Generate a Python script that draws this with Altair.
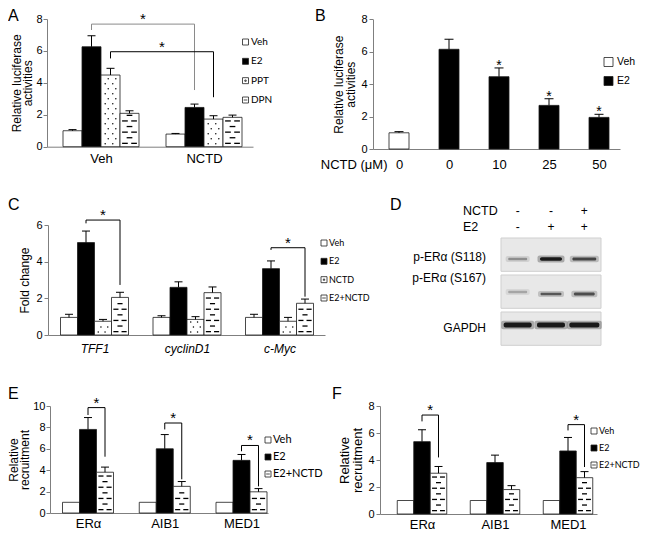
import json
import altair as alt
import pandas as pd

W, H = 632, 527
M = 8          # page margin of the html body
SHT = 10       # bottom row: upper parts raised a little
SHB = 14       # bottom row: baseline raised so that the labels fit

FONT = "Liberation Sans"
LFONT = "Lato"
GRAY = "#7f7f7f"


def cx(p):
    return p - M


def cy(p):
    return p - M


# ----------------------------- data -----------------------------
# A: luciferase reporter
A_groups = ["Veh", "NCTD"]
A_series = ["Veh", "E2", "PPT", "DPN"]
A_veh = [1.00, 0.79]
A_veh_err = [0.07, 0.04]
A_e2 = [6.26, 2.46]
A_e2_err = [0.69, 0.21]
A_ppt = [4.49, 1.73]
A_ppt_err = [0.42, 0.21]
A_dpn = [2.09, 1.84]
A_dpn_err = [0.16, 0.14]
# significance brackets: (group, series) -> (group, series), top, left end, right end
A_brackets = [((0, 1), (1, 1), 7.68, 7.31, 3.55), ((0, 2), (1, 2), 5.95, 5.53, 3.10)]

# B: NCTD dose response
B_doses = ["0", "0", "10", "25", "50"]
B_treat = ["Veh", "E2", "E2", "E2", "E2"]
B_values = [1.00, 6.15, 4.46, 2.69, 1.95]
B_errors = [0.07, 0.62, 0.54, 0.41, 0.19]
B_signif = [False, False, True, True, True]

# C: target genes
C_groups = ["TFF1", "cyclinD1", "c-Myc"]
C_series = ["Veh", "E2", "NCTD", "E2+NCTD"]
C_veh = [0.96, 0.96, 0.96]
C_veh_err = [0.17, 0.09, 0.17]
C_e2 = [5.04, 2.60, 3.62]
C_e2_err = [0.63, 0.30, 0.42]
C_nctd = [0.75, 0.85, 0.75]
C_nctd_err = [0.10, 0.15, 0.21]
C_combo = [2.05, 2.31, 1.73]
C_combo_err = [0.28, 0.31, 0.23]
C_brackets = [((0, 1), (0, 3), 6.27, 6.09, 2.73), ((2, 1), (2, 3), 4.76, 4.64, 2.09)]

# D: western blot
D_treatments = ["NCTD", "E2"]
D_nctd = ["-", "-", "+"]
D_e2 = ["-", "+", "+"]
D_blots = ["p-ERα (S118)", "p-ERα (S167)", "GAPDH"]
D_s118 = [0.35, 0.95, 0.70]
D_s167 = [0.25, 0.60, 0.65]
D_gapdh = [0.95, 0.95, 0.95]

# E, F: ChIP
EF_groups = ["ERα", "AIB1", "MED1"]
EF_series = ["Veh", "E2", "E2+NCTD"]
E_veh = [1.0, 1.0, 1.0]
E_veh_err = [0.0, 0.0, 0.0]
E_e2 = [7.81, 6.00, 4.92]
E_e2_err = [1.11, 1.33, 0.55]
E_combo = [3.81, 2.49, 1.98]
E_combo_err = [0.48, 0.45, 0.30]
E_brackets = [((0, 1), (0, 2), 9.85, 9.16, 5.26), ((1, 1), (1, 2), 8.41, 7.81, 3.15),
              ((2, 1), (2, 2), 6.31, 5.77, 2.49)]
F_veh = [1.0, 1.0, 1.0]
F_veh_err = [0.0, 0.0, 0.0]
F_e2 = [5.36, 3.81, 4.67]
F_e2_err = [0.88, 0.55, 1.00]
F_combo = [3.02, 1.81, 2.69]
F_combo_err = [0.50, 0.29, 0.45]
F_brackets = [((0, 1), (0, 2), 7.33, 6.86, 4.19), ((2, 1), (2, 2), 6.62, 6.19, 3.48)]

# ----------------------------- styles -----------------------------
SQ = "M-1,-1H1V1H-1Z"
SQ_DOT = SQ + "M-0.22,-0.22H0.22V0.22H-0.22Z"
SQ_DASH = SQ + "M-0.6,0H0.6"


def grouped(series, vals, errs):
    out = []
    for k, (s, vs, es) in enumerate(zip(series, vals, errs)):
        for g, (v, e) in enumerate(zip(vs, es)):
            out.append((g, k, s, v, e))
    return out


def pattern_points(xc, bw, v, kind, ppu):
    pts = []
    row_px = 5.6 if kind == "dash" else 5.0
    step = row_px / ppu
    y = step * 0.6
    r = 0
    while y < v - step * 0.35:
        if kind == "dash":
            offs = [-0.24, 0.24] if r % 2 == 0 else [0.0]
        else:
            offs = [-0.28, 0.12] if r % 2 == 0 else [-0.12, 0.28]
        for o in offs:
            pts.append({"px": xc + o * bw, "py": y})
        y += step
        r += 1
    return pts


def bar_panel(groups, series, bars, fills, pats, lay, brackets=(), bracket_cols=(), star_bars=()):
    step, c0 = lay["step"], lay["c0"]

    def u(px):
        return (px - c0) / step

    bw = lay["bar_px"] / step
    cap = lay["cap_px"] / step
    ppu = (lay["y0"] - lay["y1"]) / lay["ymax"]
    n = lay["per_group"]
    xs = alt.Scale(domain=[u(lay["ax0"]), u(lay["ax1"])], range=[cx(lay["ax0"]), cx(lay["ax1"])],
                   nice=False, zero=False)
    ys = alt.Scale(domain=[0, lay["ymax"]], range=[cy(lay["y0"]), cy(lay["y1"])], nice=False, zero=False)
    xa_kw = dict(orient="bottom", offset=cy(lay["y0"]) - H, values=list(range(len(groups))),
                 labelExpr=json.dumps(groups, ensure_ascii=False) + "[datum.value]",
                 ticks=False, labelFontSize=lay["xlsize"], labelFontStyle=lay.get("xlstyle", "normal"),
                 labelPadding=lay["xlpad"], labelFlush=False, labelOverlap=False, title=None)
    xa_kw.update(lay.get("xtitle", {}))
    xa = alt.Axis(**xa_kw)
    ya = alt.Axis(orient="left", offset=-cx(lay["ax0"]), values=lay["yticks"], format="d", tickSize=4,
                  title=lay["ytitle"], titleFontSize=lay["ytsize"], titlePadding=lay["ytpad"],
                  titleLineHeight=lay["ytlh"], labelFontSize=11, labelPadding=lay.get("ylpad", 2),
                  labelFlush=False, labelOverlap=False)

    def X(f):
        return alt.X(f, type="quantitative", scale=xs, axis=xa)

    def Y(f):
        return alt.Y(f, type="quantitative", scale=ys, axis=ya)

    def center(g, k):
        return g + (k - (n - 1) / 2) * bw

    rec, dots, dashes = [], [], []
    for g, k, s, v, e in bars:
        xc = center(g, k)
        rec.append(dict(s=s, v=v, e=e, top=v + e, xc=xc, x0=xc - bw / 2, x1=xc + bw / 2,
                        c0=xc - cap / 2, c1=xc + cap / 2, zero=0.0))
        kind = pats.get(s)
        if kind == "dots":
            dots += pattern_points(xc, bw, v, kind, ppu)
        elif kind == "dash":
            dashes += pattern_points(xc, bw, v, kind, ppu)
    df = pd.DataFrame(rec)

    layers = [
        alt.Chart(df).mark_rect(stroke="#1a1a1a", strokeWidth=0.8).encode(
            x=X("x0"), x2="x1", y=Y("v"), y2="zero",
            fill=alt.Fill("s:N", scale=alt.Scale(domain=series, range=fills), legend=None))
    ]
    if dots:
        layers.append(alt.Chart(pd.DataFrame(dots)).mark_point(
            shape="circle", filled=True, size=2.2, color="black", opacity=1).encode(x=X("px"), y=Y("py")))
    if dashes:
        layers.append(alt.Chart(pd.DataFrame(dashes)).mark_point(
            shape="M-1,0H1", filled=False, size=(0.3 * lay["bar_px"]) ** 2, stroke="black",
            strokeWidth=1.3, opacity=1).encode(x=X("px"), y=Y("py")))
    edf = df[df.e > 0]
    layers.append(alt.Chart(edf).mark_rule(color="black", strokeWidth=1).encode(x=X("xc"), y=Y("v"), y2="top"))
    layers.append(alt.Chart(edf).mark_rule(color="black", strokeWidth=1).encode(x=X("c0"), x2="c1", y=Y("top")))

    br, st = [], []
    for i, ((g1, k1), (g2, k2), top, lb, rb) in enumerate(brackets):
        xl, xr = center(g1, k1), center(g2, k2)
        col = bracket_cols[i] if bracket_cols else "black"
        for j, (bx, by) in enumerate([(xl, lb), (xl, top), (xr, top), (xr, rb)]):
            br.append(dict(id=i, seq=j, bx=bx, by=by, col=col))
        st.append(dict(sx=(xl + xr) / 2, sy=top))
    for i in star_bars:
        st.append(dict(sx=rec[i]["xc"], sy=rec[i]["top"]))
    if br:
        layers.append(alt.Chart(pd.DataFrame(br)).mark_line(strokeWidth=1).encode(
            x=X("bx"), y=Y("by"), detail="id:N", order="seq:Q", color=alt.Color("col:N", scale=None)))
    if st:
        layers.append(alt.Chart(pd.DataFrame(st)).mark_text(
            text="*", font=FONT, fontSize=lay["star_size"], baseline="alphabetic", align="center",
            dy=lay.get("star_dy", 0), color="black").encode(x=X("sx"), y=Y("sy")))
    return alt.layer(*layers)


def legend(series, fills, shapes, sq_x, y_first, y_last, text_x, size, font, fsize):
    df = pd.DataFrame({"s": series})
    y = alt.Y("s:N", scale=alt.Scale(type="point", domain=series, range=[cy(y_first), cy(y_last)],
                                      padding=0), axis=None)
    pts = alt.Chart(df).mark_point(filled=True, size=size, stroke="#222", strokeWidth=0.8, opacity=1).encode(
        x=alt.value(cx(sq_x)), y=y,
        fill=alt.Fill("s:N", scale=alt.Scale(domain=series, range=fills), legend=None),
        shape=alt.Shape("s:N", scale=alt.Scale(domain=series, range=shapes), legend=None))
    txt = alt.Chart(df).mark_text(align="left", baseline="middle", font=font, fontSize=fsize,
                                  color="black").encode(x=alt.value(cx(text_x)), y=y, text="s:N")
    return alt.layer(pts, txt)


def blot_panel():
    x0p, x1p, top, pitch = 501, 601, 238, 37
    lane_px = (x1p - x0p) / 3
    xs = alt.Scale(domain=[0, 3], range=[cx(x0p), cx(x1p)], nice=False, zero=False)
    ys = alt.Scale(domain=[0, 3], range=[cy(top), cy(top + 3 * pitch)], nice=False, zero=False)

    def ux(px):
        return (px - x0p) / lane_px

    def uy(py):
        return (py - top) / pitch

    def X(f):
        return alt.X(f, type="quantitative", scale=xs, axis=None)

    def Y(f):
        return alt.Y(f, type="quantitative", scale=ys, axis=None)

    boxes = pd.DataFrame({"b": D_blots, "x0": 0.0, "x1": 3.0,
                          "y0": [0.0, 1.0, 2.0], "y1": [0.9, 1.9, 2.9]})
    band_w = [[19, 22, 24], [19, 21, 21], [28, 28, 30]]
    band_h = [[2.5, 3.5, 3.0], [2.5, 2.5, 3.0], [5.0, 5.0, 5.0]]
    band_y = [[259, 259, 259], [292, 294, 294], [325, 325, 325]]
    bands = []
    for r, inten in enumerate([D_s118, D_s167, D_gapdh]):
        for lane, it in enumerate(inten):
            c = lane + 0.5
            yc = uy(band_y[r][lane])
            for grow_w, grow_h, fac in [(5, 3.5, 0.3), (0, 0, 1.0)]:
                hw = (band_w[r][lane] + grow_w) / 2 / lane_px
                hh = (band_h[r][lane] + grow_h) / 2 / pitch
                bands.append(dict(x0=c - hw, x1=c + hw, y0=yc - hh, y1=yc + hh, i=it * fac))
    bands = pd.DataFrame(bands)

    signs = []
    for row, (lab, vals) in enumerate(zip(D_treatments, [D_nctd, D_e2])):
        for lane, sgn in enumerate(vals):
            signs.append(dict(x=lane + 0.5, y=uy([211, 227][row]), t=sgn))
    signs = pd.DataFrame(signs)
    heads = pd.DataFrame({"t": D_treatments, "x": ux(463), "y": [uy(211), uy(227)]})
    rows = pd.DataFrame({"t": D_blots, "x": ux(486), "y": [uy(257), uy(278), uy(328)]})

    return alt.layer(
        alt.Chart(boxes).mark_rect(fill="#e8e8e8", stroke="#cfcfcf", strokeWidth=1).encode(
            x=X("x0"), x2="x1", y=Y("y0"), y2="y1"),
        alt.Chart(bands).mark_rect(fill="#111", cornerRadius=2).encode(
            x=X("x0"), x2="x1", y=Y("y0"), y2="y1", opacity=alt.Opacity("i:Q", scale=None)),
        alt.Chart(signs).mark_text(font=FONT, fontSize=12, baseline="middle", color="black").encode(
            x=X("x"), y=Y("y"), text="t:N"),
        alt.Chart(heads).mark_text(font=FONT, fontSize=12.5, align="left", baseline="middle",
                                   color="black").encode(x=X("x"), y=Y("y"), text="t:N"),
        alt.Chart(rows).mark_text(font=FONT, fontSize=12, align="right", baseline="middle",
                                  color="black").encode(x=X("x"), y=Y("y"), text="t:N"),
    )


# ----------------------------- panels -----------------------------
lay_A = dict(ax0=47, ax1=253, c0=101, step=103, bar_px=19, per_group=4, ymax=8, y0=146.7, y1=19,
             yticks=[0, 2, 4, 6, 8], ytitle=["Relative luciferase", "activities"], ytsize=12, ytpad=1,
             ytlh=11.5, ylpad=1, xlsize=13, xlpad=6, cap_px=8, star_size=15)
panel_A = bar_panel(A_groups, A_series,
                    grouped(A_series, [A_veh, A_e2, A_ppt, A_dpn], [A_veh_err, A_e2_err, A_ppt_err, A_dpn_err]),
                    ["white", "black", "white", "white"], {"PPT": "dots", "DPN": "dash"}, lay_A,
                    brackets=A_brackets, bracket_cols=["#8a8a8a", "black"])
leg_A = legend(A_series, ["white", "black", "white", "white"], [SQ, SQ, SQ_DOT, SQ_DASH],
               245.5, 42, 100, 251, 36, LFONT, 10)

lay_B = dict(ax0=373, ax1=620, c0=399, step=50, bar_px=20, per_group=1, ymax=8, y0=149, y1=19.3,
             yticks=[0, 2, 4, 6, 8], ytitle=["Relative luciferase", "activities"], ytsize=12, ytpad=3,
             ytlh=12, xlsize=13, xlpad=9, cap_px=9, star_size=14, star_dy=2,
             xtitle=dict(title="NCTD (μM)", titleX=cx(387), titleY=9, titleAlign="right",
                         titleBaseline="top", titleFontSize=13, titleFontWeight="normal"))
panel_B = bar_panel(B_doses, ["Veh", "E2"],
                    [(i, 0, B_treat[i], B_values[i], B_errors[i]) for i in range(len(B_values))],
                    ["white", "black"], {}, lay_B,
                    star_bars=[i for i, s in enumerate(B_signif) if s])
leg_B = legend(["Veh", "E2"], ["white", "black"], [SQ, SQ], 608.5, 62, 81, 617, 81, FONT, 10.5)

lay_C = dict(ax0=48, ax1=325, c0=94.5, step=92.5, bar_px=17, per_group=4, ymax=6, y0=335, y1=225,
             yticks=[0, 2, 4, 6], ytitle="Fold change", ytsize=12, ytpad=4, ytlh=12, xlsize=12,
             xlstyle="italic", xlpad=8, cap_px=8, star_size=15)
panel_C = bar_panel(C_groups, C_series,
                    grouped(C_series, [C_veh, C_e2, C_nctd, C_combo],
                            [C_veh_err, C_e2_err, C_nctd_err, C_combo_err]),
                    ["white", "black", "white", "white"], {"NCTD": "dots", "E2+NCTD": "dash"}, lay_C,
                    brackets=C_brackets)
leg_C = legend(C_series, ["white", "black", "white", "white"], [SQ, SQ, SQ_DOT, SQ_DASH],
               324, 243, 298, 329, 36, LFONT, 9)

lay_E = dict(ax0=50, ax1=268, c0=88, step=76.75, bar_px=17, per_group=3, ymax=10, y0=527 - SHB,
             y1=416 - SHT, yticks=[0, 2, 4, 6, 8, 10], ytitle=["Relative", "recruitment"], ytsize=12,
             ytpad=1, ytlh=11.5, ylpad=1, xlsize=13, xlpad=4, cap_px=8, star_size=15)
panel_E = bar_panel(EF_groups, EF_series,
                    grouped(EF_series, [E_veh, E_e2, E_combo], [E_veh_err, E_e2_err, E_combo_err]),
                    ["white", "black", "white"], {"E2+NCTD": "dash"}, lay_E, brackets=E_brackets)
leg_E = legend(EF_series, ["white", "black", "white"], [SQ, SQ, SQ_DASH],
               268, 452 - 12, 486 - 12, 273, 36, LFONT, 11)

lay_F = dict(ax0=380, ax1=597, c0=422, step=73, bar_px=16.5, per_group=3, ymax=8, y0=528 - SHB,
             y1=416 - SHT, yticks=[0, 2, 4, 6, 8], ytitle=["Relative", "recruitment"], ytsize=13,
             ytpad=3, ytlh=13, xlsize=13, xlpad=4, cap_px=8, star_size=15)
panel_F = bar_panel(EF_groups, EF_series,
                    grouped(EF_series, [F_veh, F_e2, F_combo], [F_veh_err, F_e2_err, F_combo_err]),
                    ["white", "black", "white"], {"E2+NCTD": "dash"}, lay_F, brackets=F_brackets)
leg_F = legend(EF_series, ["white", "black", "white"], [SQ, SQ, SQ_DASH],
               594, 443 - 12, 477 - 12, 599, 36, LFONT, 9)

panel_D = blot_panel()

letters_df = pd.DataFrame({
    "t": ["A", "B", "C", "D", "E", "F"],
    "x": [0, 307, 0, 382, 0, 324],
    "y": [0, 0, 189, 189, 390 - 12, 390 - 12],
})
letters = alt.Chart(letters_df).mark_text(font=FONT, fontSize=16, align="left", baseline="top",
                                          color="black").encode(
    x=alt.X("x:Q", scale=None), y=alt.Y("y:Q", scale=None), text="t:N")

chart = alt.layer(
    panel_A, leg_A, panel_B, leg_B, panel_C, leg_C, panel_D, panel_E, leg_E, panel_F, leg_F, letters
).resolve_scale(
    x="independent", y="independent", fill="independent", shape="independent", color="independent"
).properties(
    width=W, height=H, padding=0, autosize=alt.AutoSizeParams(type="none")
).configure_view(stroke=None).configure_axis(
    domainColor=GRAY, tickColor=GRAY, domainWidth=1, tickWidth=1, labelFont=FONT, titleFont=FONT,
    labelColor="black", titleColor="black", titleFontWeight="normal", grid=False
)

chart.save("out.html", embed_options={"renderer": "svg", "actions": False})
